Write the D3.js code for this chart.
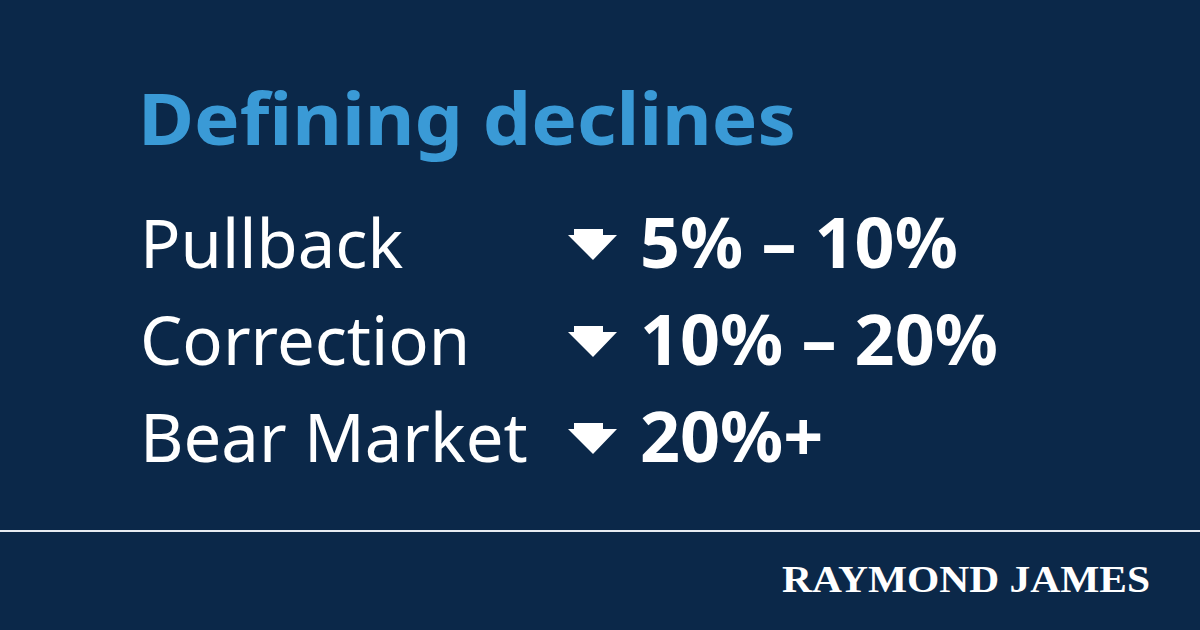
<!DOCTYPE html>
<html><head><meta charset="utf-8">
<script src="https://cdn.jsdelivr.net/npm/d3@7"></script>
<style>body{margin:0;background:#0b2849}</style>
</head><body>
<script>
const categories = ["Pullback", "Correction", "Bear Market"];
const ranges = ["5% \u2013 10%", "10% \u2013 20%", "20%+"];

const w = 1200, h = 630;
const svg = d3.select("body").append("svg").attr("width", w).attr("height", h);
svg.append("rect").attr("width", w).attr("height", h).attr("fill", "#0b2849");

svg.append("text").text("Defining declines")
  .attr("x", 138).attr("y", 145)
  .attr("fill", "#3a9ad6")
  .attr("font-family", "Noto Sans, sans-serif")
  .attr("font-weight", 700).attr("font-size", 72)
  .attr("textLength", 658).attr("lengthAdjust", "spacingAndGlyphs");

const y = d3.scalePoint().domain(categories).range([268, 462]);

const rows = svg.selectAll("g.row").data(categories).enter()
  .append("g").attr("class", "row")
  .attr("transform", d => `translate(0,${y(d)})`);

rows.append("text").text(d => d)
  .attr("x", 140).attr("fill", "white")
  .attr("font-family", "Noto Sans, sans-serif")
  .attr("font-size", 67);

// arrow: short stem then a triangle
rows.append("path")
  .attr("d", "M574,-39 L603,-39 L603,-33 L617,-33 L593,-8 L568,-33 L574,-33 Z")
  .attr("fill", "white");

rows.append("text").text((d, i) => ranges[i])
  .attr("x", 640).attr("fill", "white")
  .attr("font-family", "Noto Sans, sans-serif")
  .attr("font-weight", 700).attr("font-size", 70);

svg.append("rect").attr("x", 0).attr("y", 530).attr("width", w).attr("height", 2)
  .attr("fill", "#e8ecf2");

svg.append("text").text("RAYMOND JAMES")
  .attr("x", 1150).attr("y", 592).attr("text-anchor", "end")
  .attr("fill", "white")
  .attr("font-family", "Liberation Serif, serif")
  .attr("font-weight", 700).attr("font-size", 38)
  .attr("textLength", 368).attr("lengthAdjust", "spacingAndGlyphs");
</script>
</body></html>
